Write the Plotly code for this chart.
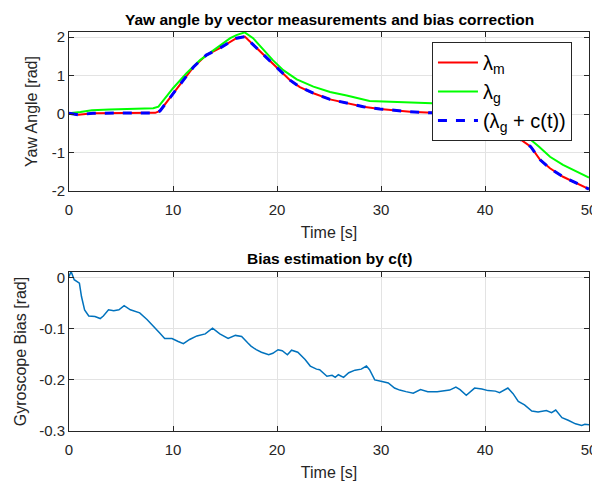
import plotly.graph_objects as go

# yaw angle curves (top panel)
t_m = [0, 0.9, 2.3, 5, 8.3, 8.75, 10, 11, 12, 13.2, 14.5, 15.5, 16.1, 16.9, 17.4, 18.4, 19.3,
       20.3, 21.25, 22.2, 23.5, 25.1, 26.7, 28.3, 29.9, 31.5, 32.8, 34.9, 37, 39, 41, 43,
       44.4, 45.3, 46.25, 47.5, 48.8, 50]
yaw_m = [0.02, -0.02, 0.02, 0.03, 0.03, 0.08, 0.54, 0.88, 1.23, 1.53, 1.71, 1.88, 1.97, 2.01,
         1.88, 1.62, 1.36, 1.10, 0.88, 0.70, 0.54, 0.38, 0.28, 0.19, 0.13, 0.09, 0.06, 0.03,
         -0.02, -0.12, -0.30, -0.58, -0.85, -1.19, -1.41, -1.63, -1.80, -1.95]

t_g = [0, 1.1, 2.2, 3.9, 8.1, 8.6, 10, 11.3, 12.6, 13.9, 15.5, 16.1, 16.9, 17.7, 18.7, 19.6,
       20.6, 21.9, 23.5, 25.1, 26.7, 28.3, 28.9, 30.9, 32.8, 34.9, 37, 39, 41, 43, 45.2,
       46.25, 47.5, 48.8, 50]
yaw_g = [0.02, 0.05, 0.10, 0.12, 0.15, 0.19, 0.67, 1.06, 1.40, 1.66, 1.97, 2.05, 2.12, 1.97,
         1.66, 1.40, 1.14, 0.90, 0.71, 0.57, 0.48, 0.39, 0.34, 0.32, 0.30, 0.28, 0.20, 0.10,
         -0.08, -0.35, -0.85, -1.11, -1.32, -1.50, -1.65]

t_c = t_m
yaw_corr = [0.02, -0.02, 0.02, 0.03, 0.03, 0.08, 0.54, 0.88, 1.23, 1.53, 1.71, 1.88, 1.97, 2.01,
            1.88, 1.62, 1.36, 1.10, 0.88, 0.70, 0.54, 0.38, 0.28, 0.19, 0.13, 0.09, 0.06, 0.03,
            -0.02, -0.12, -0.30, -0.58, -0.85, -1.19, -1.41, -1.63, -1.80, -1.95]

# gyroscope bias c(t) (bottom panel)
t_bias = [0, 0.2, 0.5, 0.8, 1.0, 1.2, 1.5, 1.9, 2.5, 3.0, 3.3, 3.8, 4.3, 4.8, 5.3, 5.9, 6.8,
          7.5, 8.1, 8.7, 9.2, 9.9, 10.5, 11.0, 11.6, 12.3, 13.1, 13.8, 14.5, 15.3, 16.0, 16.6,
          17.2, 17.5, 18.0, 18.5, 19.2, 19.6, 20.1, 20.5, 21.0, 21.4, 22.0, 22.7, 23.2, 23.8,
          24.1, 24.8, 25.3, 25.6, 25.9, 26.4, 26.9, 27.5, 28.1, 28.6, 28.9, 29.4, 30.1, 30.7,
          31.3, 31.8, 32.4, 33.1, 33.8, 34.5, 35.4, 36.2, 36.6, 37.2, 37.6, 38.2, 38.6, 39.0,
          39.7, 40.3, 41.0, 41.4, 42.2, 42.7, 43.2, 43.8, 44.5, 45.1, 45.9, 46.4, 46.8, 47.4,
          48.0, 48.7, 49.3, 49.6, 50.0]
bias = [0.002, 0.012, -0.004, -0.008, -0.011, -0.037, -0.063, -0.075, -0.076, -0.080, -0.075,
        -0.063, -0.065, -0.063, -0.055, -0.063, -0.069, -0.082, -0.094, -0.108, -0.119, -0.119,
        -0.125, -0.129, -0.121, -0.114, -0.110, -0.099, -0.110, -0.119, -0.113, -0.115, -0.128,
        -0.134, -0.141, -0.146, -0.151, -0.148, -0.141, -0.143, -0.151, -0.142, -0.146, -0.160,
        -0.173, -0.179, -0.180, -0.193, -0.191, -0.195, -0.190, -0.195, -0.186, -0.181, -0.179,
        -0.173, -0.180, -0.200, -0.203, -0.206, -0.216, -0.220, -0.223, -0.226, -0.219, -0.223,
        -0.223, -0.221, -0.220, -0.214, -0.219, -0.230, -0.222, -0.216, -0.218, -0.221, -0.222,
        -0.225, -0.216, -0.227, -0.242, -0.249, -0.261, -0.263, -0.260, -0.264, -0.259, -0.274,
        -0.279, -0.286, -0.289, -0.287, -0.288]

x_ticks = [0, 10, 20, 30, 40, 50]
yaw_ticks = [-2, -1, 0, 1, 2]
yaw_ticktext = ['-2', '-1', '0', '1', '2']
bias_ticks = [-0.3, -0.2, -0.1, 0]
bias_ticktext = ['-0.3', '-0.2', '-0.1', '0']

FONT = 'Liberation Sans, Arial, sans-serif'
AX = '#262626'

fig = go.Figure()
fig.add_trace(go.Scatter(x=t_m, y=yaw_m, mode='lines', name='λ<sub>m</sub>',
                         line=dict(color='#ff0000', width=2), xaxis='x', yaxis='y'))
fig.add_trace(go.Scatter(x=t_g, y=yaw_g, mode='lines', name='λ<sub>g</sub>',
                         line=dict(color='#00ff00', width=2), xaxis='x', yaxis='y'))
fig.add_trace(go.Scatter(x=t_c, y=yaw_corr, mode='lines', name='(λ<sub>g</sub> + c(t))',
                         line=dict(color='#0000ff', width=3, dash='dash'), xaxis='x', yaxis='y'))
fig.add_trace(go.Scatter(x=t_bias, y=bias, mode='lines', showlegend=False,
                         line=dict(color='#0072bd', width=1.5), xaxis='x2', yaxis='y2'))

axis_common = dict(showline=True, linecolor=AX, linewidth=1, mirror='ticks',
                   ticks='inside', ticklen=5, tickcolor=AX, showgrid=True,
                   gridcolor='#e3e3e3', zeroline=False, automargin=False,
                   tickfont=dict(family=FONT, size=15, color=AX))
title_font = dict(family=FONT, size=16, color=AX)

# the page body adds an 8px offset, so the figure is 8px smaller than the window
fig.update_layout(
    width=592, height=474,
    margin=dict(l=61, r=11, t=24, b=51),
    plot_bgcolor='white', paper_bgcolor='white',
    font=dict(family=FONT, color=AX),
    xaxis=dict(domain=[0, 1], range=[0, 50], tickvals=x_ticks, anchor='y',
               ticklabelstandoff=5,
               title=dict(text='Time [s]', font=title_font, standoff=9),
               **axis_common),
    yaxis=dict(domain=[0.6015, 1], range=[-2, 2.13], tickvals=yaw_ticks,
               ticktext=yaw_ticktext, anchor='x',
               title=dict(text='Yaw Angle [rad]', font=title_font, standoff=10),
               **axis_common),
    xaxis2=dict(domain=[0, 1], range=[0, 50], tickvals=x_ticks, anchor='y2',
                ticklabelstandoff=5,
                title=dict(text='Time [s]', font=title_font, standoff=9),
                **axis_common),
    yaxis2=dict(domain=[0, 0.3985], range=[-0.3, 0.011], tickvals=bias_ticks,
                ticktext=bias_ticktext, anchor='x2',
                title=dict(text='Gyroscope Bias [rad]', font=title_font, standoff=8),
                **axis_common),
    legend=dict(x=0.698, y=0.975, xanchor='left', yanchor='top',
                bgcolor='white', bordercolor=AX, borderwidth=1,
                font=dict(family=FONT, size=20, color='black'), itemwidth=40),
    showlegend=True,
    annotations=[
        dict(text='<b>Yaw angle by vector measurements and bias correction</b>',
             x=0.5, y=1, xref='paper', yref='paper', xanchor='center', yanchor='bottom',
             yshift=2, showarrow=False, font=dict(family=FONT, size=15.5, color='black')),
        dict(text='<b>Bias estimation by c(t)</b>',
             x=0.5, y=0.3985, xref='paper', yref='paper', xanchor='center', yanchor='bottom',
             yshift=3, showarrow=False, font=dict(family=FONT, size=15.5, color='black')),
    ],
)

fig.write_html('out.html')
